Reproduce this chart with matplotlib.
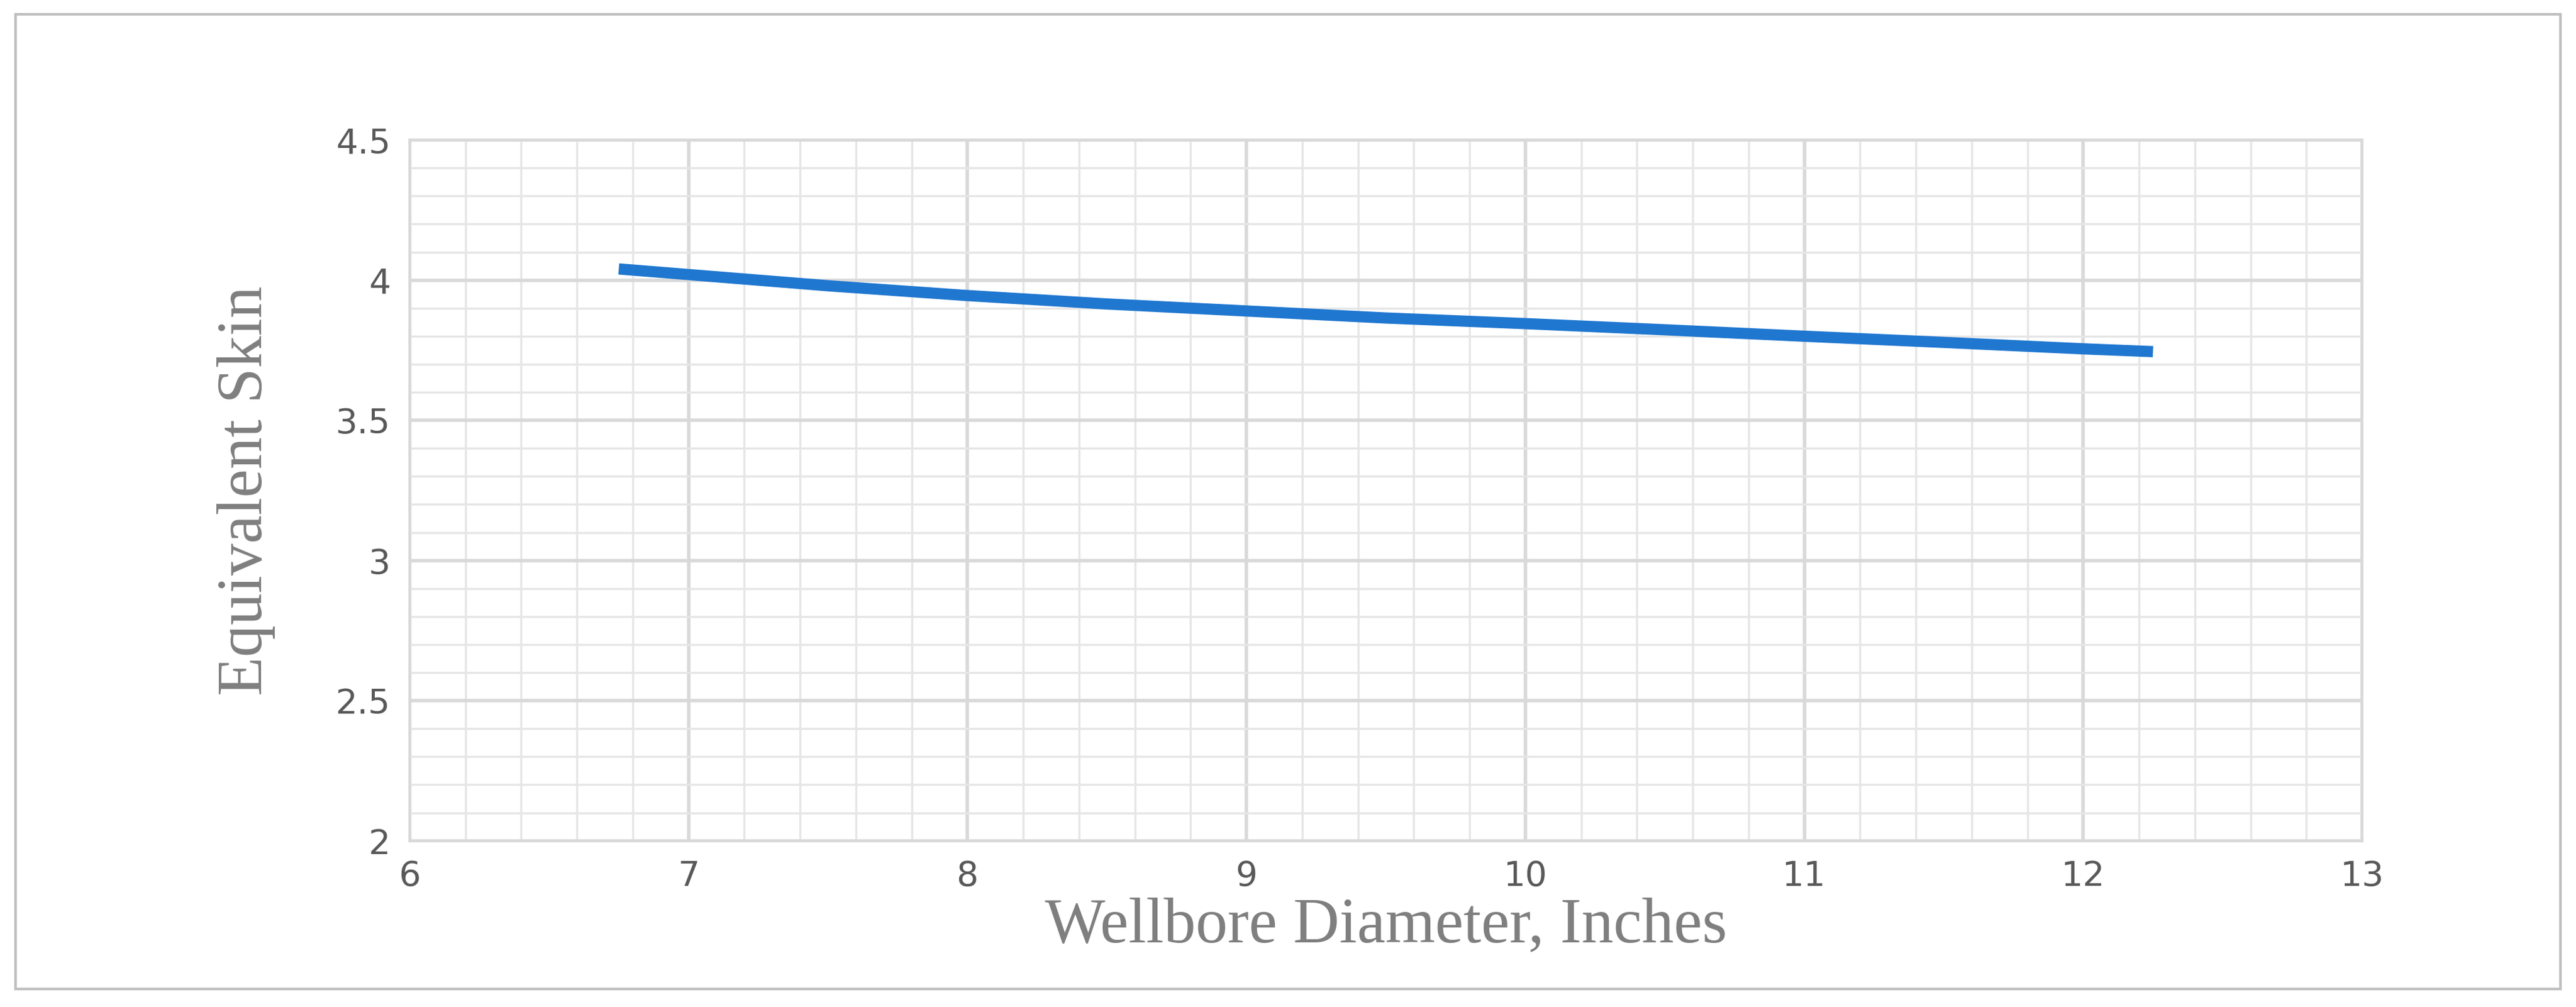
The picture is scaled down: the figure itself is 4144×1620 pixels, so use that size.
import matplotlib
matplotlib.use("Agg")
import matplotlib.pyplot as plt
from matplotlib.patches import Rectangle
from matplotlib.ticker import MultipleLocator

diameter = [6.75, 7, 7.5, 8, 8.5, 9, 9.5, 10, 10.5, 11, 11.5, 12, 12.25]
skin = [4.04, 4.02, 3.98, 3.945, 3.915, 3.89, 3.865, 3.845, 3.823, 3.80, 3.778, 3.755, 3.745]
xticks = [6, 7, 8, 9, 10, 11, 12, 13]
yticks = [2, 2.5, 3, 3.5, 4, 4.5]

fig = plt.figure(figsize=(41.44, 16.2), dpi=100)
fig.patches.append(Rectangle((0.006, 0.018), 0.988, 0.968, transform=fig.transFigure,
                             fill=False, edgecolor="#bfbfbf", linewidth=3))
ax = fig.add_axes([0.159, 0.165, 0.758, 0.696])
ax.set_xlim(6, 13)
ax.set_ylim(2, 4.5)
ax.set_xticks(xticks)
ax.set_yticks(yticks)
ax.set_yticklabels([f"{v:g}" for v in yticks])
ax.xaxis.set_minor_locator(MultipleLocator(0.2))
ax.yaxis.set_minor_locator(MultipleLocator(0.1))
ax.grid(which="major", color="#d9d9d9", linewidth=4)
ax.grid(which="minor", color="#e6e6e6", linewidth=2.5)
ax.set_axisbelow(True)
for s in ax.spines.values():
    s.set_color("#d9d9d9")
    s.set_linewidth(3)
ax.tick_params(which="both", length=0, labelsize=40, colors="#595959", pad=22)
ax.plot(diameter, skin, color="#1f77d0", linewidth=13, solid_capstyle="butt")
ax.set_xlabel("Wellbore Diameter, Inches", family="Liberation Serif", fontsize=74,
              color="#7f7f7f", labelpad=4)
ax.set_ylabel("Equivalent Skin", family="Liberation Serif", fontsize=74,
              color="#7f7f7f", labelpad=70)
fig.savefig("out.png", dpi=100)
